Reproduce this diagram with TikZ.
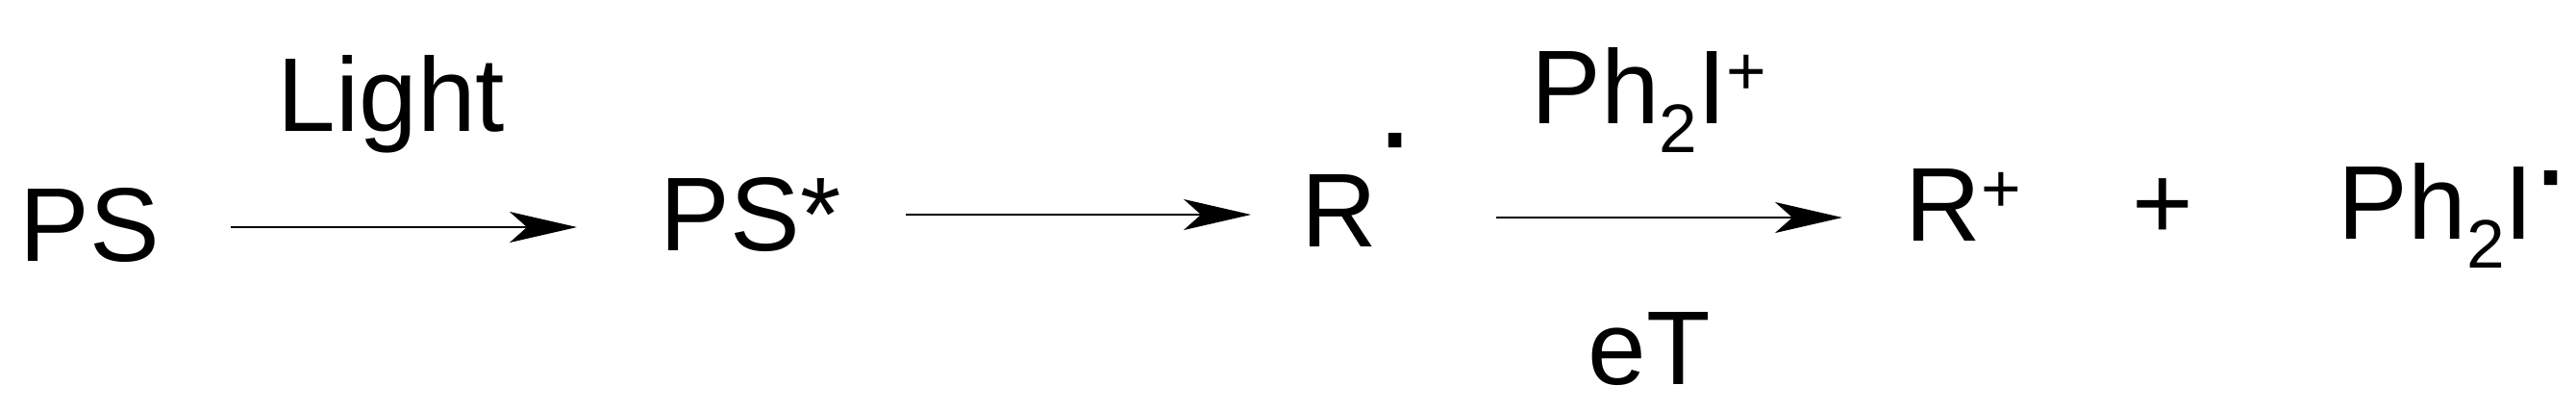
\documentclass[tikz,border=0pt]{standalone}
\usepackage{fontspec}
\setmainfont{Liberation Sans}
\usetikzlibrary{arrows.meta}
\newcommand{\lowtwo}{\raisebox{-0.3cm}{\fontsize{20.3}{24}\selectfont 2}}
\newcommand{\upplus}{\raisebox{0.3cm}{\fontsize{20.3}{24}\selectfont +}}
\newcommand{\raddot}[1]{\kern-1.5pt\raisebox{#1}{\scalebox{1.3}{·}}}

\begin{document}
\begin{tikzpicture}[font=\fontsize{31}{37}\selectfont,
  chem/.style={inner sep=0pt, anchor=base west},
  rxn/.style={-{Stealth[length=7mm, width=3.2mm, inset=1.8mm]}, line width=0.2mm}]
 \fill[white] (0,0) rectangle (26.79,4.26);
 \node[chem] (ps) at (0.20,1.55) {PS};
 \node[chem] (psstar) at (6.86,1.66) {PS*};
 \node[chem] (rad) at (13.53,1.70) {R\raddot{0.72cm}};
 \node[chem] (cation) at (19.81,1.76) {R\upplus};
 \node[chem] (plus) at (22.17,1.78) {+};
 \node[chem] (iodyl) at (24.31,1.78) {Ph\lowtwo I\raddot{0.25cm}};

 \coordinate (a1s) at (2.40,1.90);
 \coordinate (a1e) at (6.00,1.90);
 \coordinate (a2s) at (9.42,2.03);
 \coordinate (a2e) at (13.01,2.03);
 \coordinate (a3s) at (15.56,2.00);
 \coordinate (a3e) at (19.16,2.00);

 \draw[rxn] (a1s) -- (a1e);
 \draw[rxn] (a2s) -- (a2e);
 \draw[rxn] (a3s) -- (a3e);

 \node[chem] (light) at (2.88,2.90) {Light};
 \node[chem] (salt) at (15.92,2.98) {Ph\lowtwo I\upplus};
 \node[chem] (et) at (16.51,0.27) {eT};
\end{tikzpicture}
\end{document}
